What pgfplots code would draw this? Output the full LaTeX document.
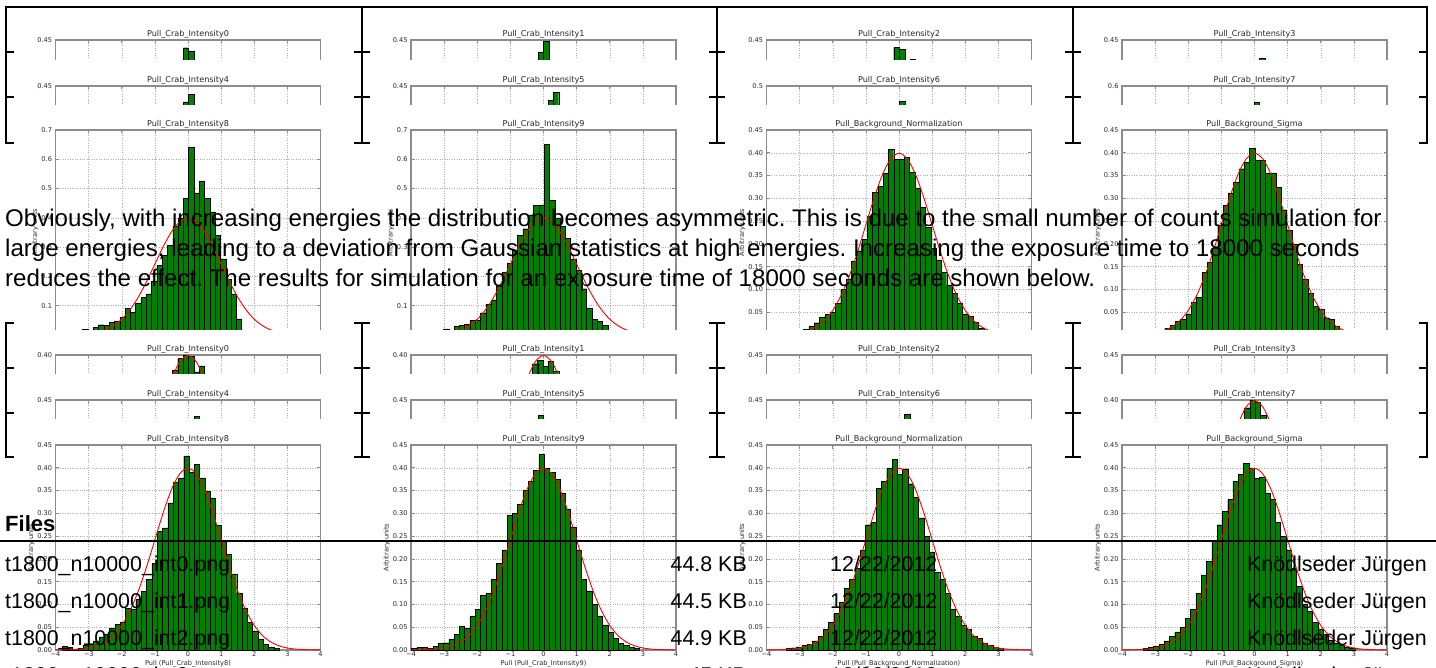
\documentclass[border=0pt]{standalone}
\usepackage{fontspec}
\setmainfont{Liberation Sans}
\newfontfamily\dejavu{DejaVu Sans}
\usepackage{pgfplots}
\usepackage{pgfplotstable}
\pgfplotsset{compat=1.18}
\definecolor{hgreen}{RGB}{0,128,0}
\definecolor{frame}{RGB}{140,140,140}

% standard normal pdf, typed values
\pgfplotstableread{
x y
-4 0.0001
-3.75 0.0004
-3.5 0.0009
-3.25 0.0020
-3 0.0044
-2.75 0.0091
-2.5 0.0175
-2.25 0.0317
-2 0.0540
-1.75 0.0863
-1.5 0.1295
-1.25 0.1826
-1 0.2420
-0.75 0.3011
-0.5 0.3521
-0.25 0.3867
0 0.3989
0.25 0.3867
0.5 0.3521
0.75 0.3011
1 0.2420
1.25 0.1826
1.5 0.1295
1.75 0.0863
2 0.0540
2.25 0.0317
2.5 0.0175
2.75 0.0091
3 0.0044
3.25 0.0020
3.5 0.0009
3.75 0.0004
4 0.0001
}\gausstab

% t = 1800 s, large panels
\pgfplotstableread{
x y
-3.10 0.020
-2.94 0.012
-2.78 0.026
-2.62 0.035
-2.46 0.033
-2.30 0.044
-2.14 0.048
-1.98 0.062
-1.82 0.092
-1.66 0.078
-1.50 0.110
-1.34 0.128
-1.18 0.140
-1.02 0.185
-0.86 0.238
-0.70 0.271
-0.54 0.305
-0.38 0.371
-0.22 0.400
-0.06 0.466
0.10 0.640
0.26 0.483
0.42 0.526
0.58 0.466
0.74 0.420
0.90 0.340
1.06 0.260
1.22 0.190
1.38 0.140
1.54 0.055
1.70 0.012
1.86 0.006
}\tEight

\pgfplotstableread{
x y
-2.94 0.021
-2.78 0.012
-2.62 0.030
-2.46 0.034
-2.30 0.036
-2.14 0.050
-1.98 0.050
-1.82 0.076
-1.66 0.104
-1.50 0.120
-1.34 0.167
-1.18 0.215
-1.02 0.246
-0.86 0.290
-0.70 0.340
-0.54 0.363
-0.38 0.410
-0.22 0.442
-0.06 0.444
0.10 0.652
0.26 0.459
0.42 0.400
0.58 0.370
0.74 0.330
0.90 0.260
1.06 0.220
1.22 0.158
1.38 0.093
1.54 0.053
1.70 0.046
1.86 0.033
2.02 0.012
}\tNine

\pgfplotstableread{
x y
-3.12 0.004
-2.96 0.008
-2.80 0.012
-2.64 0.020
-2.48 0.027
-2.32 0.040
-2.16 0.045
-2.00 0.050
-1.84 0.070
-1.68 0.100
-1.52 0.123
-1.36 0.162
-1.20 0.185
-1.04 0.210
-0.88 0.260
-0.72 0.313
-0.56 0.326
-0.40 0.356
-0.24 0.407
-0.08 0.385
0.08 0.385
0.24 0.390
0.40 0.358
0.56 0.323
0.72 0.280
0.88 0.237
1.04 0.190
1.20 0.165
1.36 0.138
1.52 0.110
1.68 0.092
1.84 0.070
2.00 0.046
2.16 0.041
2.32 0.028
2.48 0.015
2.64 0.010
2.80 0.006
2.96 0.004
}\tNorm

\pgfplotstableread{
x y
-3.11 0.004
-2.95 0.006
-2.79 0.010
-2.63 0.014
-2.47 0.021
-2.31 0.030
-2.15 0.035
-1.99 0.045
-1.83 0.072
-1.67 0.083
-1.51 0.138
-1.35 0.160
-1.19 0.190
-1.03 0.240
-0.87 0.284
-0.71 0.312
-0.55 0.335
-0.39 0.365
-0.23 0.379
-0.07 0.410
0.09 0.383
0.25 0.383
0.41 0.356
0.57 0.356
0.73 0.324
0.89 0.275
1.05 0.230
1.21 0.200
1.37 0.155
1.53 0.122
1.69 0.092
1.85 0.063
2.01 0.057
2.17 0.038
2.33 0.034
2.49 0.020
2.65 0.010
2.81 0.006
}\tSigma

% t = 18000 s, large panels
\pgfplotstableread{
x y
-3.73 0.008
-3.57 0.006
-3.41 0.002
-3.25 0.004
-3.09 0.010
-2.93 0.012
-2.77 0.020
-2.61 0.029
-2.45 0.034
-2.29 0.047
-2.13 0.056
-1.97 0.060
-1.81 0.092
-1.65 0.089
-1.49 0.111
-1.33 0.129
-1.17 0.155
-1.01 0.190
-0.85 0.261
-0.69 0.268
-0.53 0.323
-0.37 0.369
-0.21 0.378
-0.05 0.426
0.11 0.390
0.27 0.408
0.43 0.378
0.59 0.349
0.75 0.334
0.91 0.273
1.07 0.239
1.23 0.210
1.39 0.167
1.55 0.125
1.71 0.092
1.87 0.061
2.03 0.041
2.19 0.023
2.35 0.012
2.51 0.007
2.67 0.004
}\bEight

\pgfplotstableread{
x y
-3.90 0.004
-3.74 0.006
-3.58 0.006
-3.42 0.004
-3.26 0.008
-3.10 0.014
-2.94 0.016
-2.78 0.024
-2.62 0.035
-2.46 0.053
-2.30 0.048
-2.14 0.075
-1.98 0.090
-1.82 0.120
-1.66 0.125
-1.50 0.155
-1.34 0.190
-1.18 0.220
-1.02 0.295
-0.86 0.300
-0.70 0.320
-0.54 0.350
-0.38 0.370
-0.22 0.395
-0.06 0.430
0.10 0.400
0.26 0.390
0.42 0.375
0.58 0.345
0.74 0.310
0.90 0.270
1.06 0.220
1.22 0.155
1.38 0.130
1.54 0.100
1.70 0.075
1.86 0.055
2.02 0.040
2.18 0.025
2.34 0.015
2.50 0.010
2.66 0.006
2.82 0.003
}\bNine

\pgfplotstableread{
x y
-3.33 0.003
-3.17 0.005
-3.01 0.007
-2.85 0.010
-2.69 0.013
-2.53 0.020
-2.37 0.030
-2.21 0.045
-2.05 0.060
-1.89 0.080
-1.73 0.105
-1.57 0.135
-1.41 0.155
-1.25 0.180
-1.09 0.220
-0.93 0.275
-0.77 0.280
-0.61 0.355
-0.45 0.370
-0.29 0.400
-0.13 0.418
0.03 0.385
0.19 0.398
0.35 0.365
0.51 0.335
0.67 0.290
0.83 0.250
0.99 0.215
1.15 0.170
1.31 0.155
1.47 0.125
1.63 0.090
1.79 0.075
1.95 0.055
2.11 0.045
2.27 0.030
2.43 0.025
2.59 0.015
2.75 0.010
2.91 0.006
3.07 0.003
}\bNorm

\pgfplotstableread{
x y
-3.29 0.004
-3.13 0.006
-2.97 0.008
-2.81 0.013
-2.65 0.020
-2.49 0.030
-2.33 0.040
-2.17 0.050
-2.01 0.070
-1.85 0.090
-1.69 0.125
-1.53 0.165
-1.37 0.195
-1.21 0.240
-1.05 0.275
-0.89 0.305
-0.73 0.330
-0.57 0.370
-0.41 0.385
-0.25 0.410
-0.09 0.400
0.07 0.377
0.23 0.380
0.39 0.345
0.55 0.330
0.71 0.280
0.87 0.250
1.03 0.220
1.19 0.180
1.35 0.140
1.51 0.100
1.67 0.085
1.83 0.060
1.99 0.045
2.15 0.035
2.31 0.022
2.47 0.015
2.63 0.010
2.79 0.006
2.95 0.004
}\bSigma

\pgfplotsset{
  pull/.style={
    scale only axis, width=265pt, height=205pt, anchor=north west,
    xmin=-4, xmax=4, ymin=0, enlargelimits=false,
    xtick={-4,-3,-2,-1,0,1,2,3,4},
    xticklabels={−4,−3,−2,−1,0,1,2,3,4},
    grid=major, major grid style={dotted, draw=black!32, line width=0.45pt},
    axis line style={draw=frame, line width=1.1pt},
    major tick style={draw=frame, line width=0.6pt}, major tick length=3.5pt,
    tick label style={font=\dejavu\fontsize{6.6}{7}\selectfont, text=black!85},
    xticklabel style={yshift=1.5pt},
    yticklabel style={/pgf/number format/assume math mode=true},
    title style={font=\dejavu\fontsize{8.1}{9}\selectfont, text=black!85, yshift=-8pt},
    ylabel={Arbitrary units},
    ylabel style={font=\dejavu\fontsize{6.6}{7}\selectfont, text=black!85, yshift=-4pt},
    xlabel style={font=\dejavu\fontsize{6.6}{7}\selectfont, text=black!85, yshift=3.5pt},
  },
  ya45/.style={ymax=0.45, ytick={0,0.05,0.1,0.15,0.2,0.25,0.3,0.35,0.4,0.45},
    yticklabel style={/pgf/number format/.cd, fixed, fixed zerofill, precision=2}},
  ya40/.style={ymax=0.40, ytick={0,0.05,0.1,0.15,0.2,0.25,0.3,0.35,0.4},
    yticklabel style={/pgf/number format/.cd, fixed, fixed zerofill, precision=2}},
  ya5/.style={ymax=0.5, ytick={0,0.1,0.2,0.3,0.4,0.5},
    yticklabel style={/pgf/number format/.cd, fixed, fixed zerofill, precision=1}},
  ya6/.style={ymax=0.6, ytick={0,0.1,0.2,0.3,0.4,0.5,0.6},
    yticklabel style={/pgf/number format/.cd, fixed, fixed zerofill, precision=1}},
  ya7/.style={ymax=0.7, ytick={0,0.1,0.2,0.3,0.4,0.5,0.6,0.7},
    yticklabel style={/pgf/number format/.cd, fixed, fixed zerofill, precision=1}},
  bars/.style={ybar, bar width=0.16, bar shift=0pt, fill=hgreen, draw=black, line width=0.35pt},
  gauss/.style={red, line width=0.9pt, smooth, mark=none},
}

% one clipped strip: #1 axis left, #2 axis top, #3 clip bottom, #4 axis keys, #5 bars
\newcommand\strip[5]{%
\begin{scope}
\clip ({#1pt-55pt},{-#2pt+20pt}) rectangle ({#1pt+300pt},{-#3pt});
\begin{axis}[pull, at={(#1pt,-#2pt)}, #4]
\addplot[bars] coordinates {#5};
\addplot[gauss] table {\gausstab};
\end{axis}
\end{scope}}

\begin{document}
\begin{tikzpicture}
% ---------- exposure 1800 s ----------
\strip{55.5}{40}{60}{ya45, title={Pull\_Crab\_Intensity0}}{(-0.06,0.433) (0.10,0.426)}
\strip{411}{40}{60}{ya45, title={Pull\_Crab\_Intensity1}}{(-0.08,0.424) (0.08,0.448)}
\strip{766.5}{40}{60}{ya45, title={Pull\_Crab\_Intensity2}}{(-0.08,0.434) (0.10,0.430) (0.42,0.407)}
\strip{1122}{40}{60}{ya45, title={Pull\_Crab\_Intensity3}}{(0.23,0.409)}

\strip{55.5}{86}{105}{ya45, title={Pull\_Crab\_Intensity4}}{(-0.06,0.415) (0.10,0.432)}
\strip{411}{86}{105}{ya45, title={Pull\_Crab\_Intensity5}}{(0.22,0.419) (0.38,0.436)}
\strip{766.5}{86}{105}{ya5, title={Pull\_Crab\_Intensity6}}{(0.10,0.464)}
\strip{1122}{86}{105}{ya6, title={Pull\_Crab\_Intensity7}}{(0.07,0.554)}

\begin{scope}
\clip (0pt,-112pt) rectangle (1436pt,-330pt);
\begin{axis}[pull, at={(55.5pt,-130pt)}, ya7, title={Pull\_Crab\_Intensity8}, xlabel={Pull (Pull\_Crab\_Intensity8)}]
\addplot[bars] table {\tEight};
\addplot[gauss] table {\gausstab};
\end{axis}
\begin{axis}[pull, at={(411pt,-130pt)}, ya7, title={Pull\_Crab\_Intensity9}, xlabel={Pull (Pull\_Crab\_Intensity9)}]
\addplot[bars] table {\tNine};
\addplot[gauss] table {\gausstab};
\end{axis}
\begin{axis}[pull, at={(766.5pt,-130pt)}, ya45, title={Pull\_Background\_Normalization}, xlabel={Pull (Pull\_Background\_Normalization)}]
\addplot[bars] table {\tNorm};
\addplot[gauss] table {\gausstab};
\end{axis}
\begin{axis}[pull, at={(1122pt,-130pt)}, ya45, title={Pull\_Background\_Sigma}, xlabel={Pull (Pull\_Background\_Sigma)}]
\addplot[bars] table {\tSigma};
\addplot[gauss] table {\gausstab};
\end{axis}
\end{scope}

% ---------- exposure 18000 s ----------
\strip{55.5}{355}{374}{ya40, title={Pull\_Crab\_Intensity0}}{(-0.39,0.371) (-0.23,0.393) (-0.06,0.400) (0.10,0.397) (0.26,0.367) (0.42,0.379)}
\strip{411}{355}{374}{ya40, title={Pull\_Crab\_Intensity1}}{(-0.25,0.383) (-0.10,0.389) (0.06,0.378) (0.22,0.387) (0.38,0.369)}
\strip{766.5}{355}{374}{ya45, title={Pull\_Crab\_Intensity2}}{(-0.08,0.409)}
\strip{1122}{355}{374}{ya45, title={Pull\_Crab\_Intensity3}}{(0.02,0.390)}

\strip{55.5}{400}{419}{ya45, title={Pull\_Crab\_Intensity4}}{(0.26,0.414)}
\strip{411}{400}{419}{ya45, title={Pull\_Crab\_Intensity5}}{(-0.08,0.416)}
\strip{766.5}{400}{419}{ya45, title={Pull\_Crab\_Intensity6}}{(0.25,0.418)}
\strip{1122}{400}{419}{ya40, title={Pull\_Crab\_Intensity7}}{(-0.22,0.385) (-0.06,0.400) (0.10,0.395) (0.26,0.370)}

\begin{axis}[pull, at={(55.5pt,-445pt)}, ya45, title={Pull\_Crab\_Intensity8}, xlabel={Pull (Pull\_Crab\_Intensity8)}]
\addplot[bars] table {\bEight};
\addplot[gauss] table {\gausstab};
\end{axis}
\begin{axis}[pull, at={(411pt,-445pt)}, ya45, title={Pull\_Crab\_Intensity9}, xlabel={Pull (Pull\_Crab\_Intensity9)}]
\addplot[bars] table {\bNine};
\addplot[gauss] table {\gausstab};
\end{axis}
\begin{axis}[pull, at={(766.5pt,-445pt)}, ya45, title={Pull\_Background\_Normalization}, xlabel={Pull (Pull\_Background\_Normalization)}]
\addplot[bars] table {\bNorm};
\addplot[gauss] table {\gausstab};
\end{axis}
\begin{axis}[pull, at={(1122pt,-445pt)}, ya45, title={Pull\_Background\_Sigma}, xlabel={Pull (Pull\_Background\_Sigma)}]
\addplot[bars] table {\bSigma};
\addplot[gauss] table {\gausstab};
\end{axis}

% ---------- brackets ----------
\begin{scope}[line width=2pt, line cap=rect]
\draw (6pt,-7pt) -- (1427pt,-7pt);
\foreach \xx in {6,362,717,1073,1427} {
  \draw (\xx pt,-7pt) -- (\xx pt,-143pt);
  \draw (\xx pt,-323pt) -- (\xx pt,-457pt);
}
\foreach \yy in {52,97,143,323,368,413,457} {
  \draw (6pt,-\yy pt) -- (13pt,-\yy pt);
  \draw (1420pt,-\yy pt) -- (1427pt,-\yy pt);
  \foreach \xx in {362,717,1073} \draw (\xx pt-7pt,-\yy pt) -- (\xx pt+7pt,-\yy pt);
}
\end{scope}

% ---------- page text ----------
\begin{scope}[every node/.style={inner sep=0pt, font=\frenchspacing\fontsize{21.4}{25}\selectfont}]
\node[anchor=base west, font=\frenchspacing\fontsize{24.1}{28}\selectfont] at (5pt,-227pt) {Obviously, with increasing energies the distribution becomes asymmetric. This is due to the small number of counts simulation for};
\node[anchor=base west, font=\frenchspacing\fontsize{24.1}{28}\selectfont] at (5pt,-257pt) {large energies, leading to a deviation from Gaussian statistics at high energies. Increasing the exposure time to 18000 seconds};
\node[anchor=base west, font=\frenchspacing\fontsize{24.1}{28}\selectfont] at (5pt,-287pt) {reduces the effect. The results for simulation for an exposure time of 18000 seconds are shown below.};
\node[anchor=base west, font=\bfseries\fontsize{22}{26}\selectfont] at (5pt,-531pt) {Files};
\foreach \yy/\ff/\ss in {571/0/44.8, 608/1/44.5, 645/2/44.9, 682/3/45} {
  \node[anchor=base west] at (5pt,-\yy pt) {t1800\_n10000\_int\ff.png};
  \node[anchor=base east] at (747pt,-\yy pt) {\ss\ KB};
  \node[anchor=base west] at (830pt,-\yy pt) {12/22/2012};
  \node[anchor=base east] at (1427pt,-\yy pt) {Knödlseder Jürgen};
}
\end{scope}
\draw[line width=1.5pt] (0pt,-541pt) -- (1436pt,-541pt);

\pgfresetboundingbox
\useasboundingbox (0pt,0pt) rectangle (1436pt,-668pt);
\end{tikzpicture}
\end{document}
